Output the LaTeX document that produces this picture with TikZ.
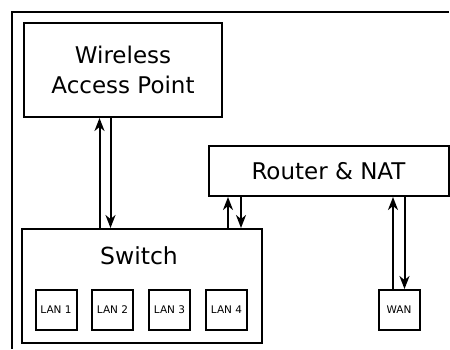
\documentclass[tikz,border=0pt]{standalone}
\usepackage{fontspec}
\setmainfont{DejaVu Sans}
\usetikzlibrary{arrows.meta}
\begin{document}
\begin{tikzpicture}[x=1pt,y=-1pt,
  box/.style={draw,line width=2pt,inner sep=0pt},
  port/.style={draw,line width=2pt,inner sep=0pt,minimum width=41pt,minimum height=40pt,font=\fontsize{10.5}{12}\selectfont},
  link/.style={line width=2pt,-{Stealth[length=13pt,width=10pt,inset=4pt]}}]
\useasboundingbox (0,0) rectangle (450,349);
\coordinate (fbl) at (12,348.5);
\coordinate (ftl) at (12,11.5);
\coordinate (ftr) at (448.5,11.5);
\draw[line width=2pt] (fbl) -- (ftl) -- (ftr);
\node[box,minimum width=198pt,minimum height=94pt,align=center,font=\fontsize{23}{30}\selectfont] (wap) at (123,70) {Wireless\\Access Point};
\node[box,minimum width=240pt,minimum height=50pt,font=\fontsize{23}{27}\selectfont] (router) at (328.5,171) {Router \& NAT};
\node[box,minimum width=240pt,minimum height=114pt] (switch) at (142,286) {};
\node[font=\fontsize{23.5}{27}\selectfont] (swlabel) at (139,256) {Switch};
\node[port] (lan1) at (56,310) {LAN 1};
\node[port] (lan2) at (112.5,310) {LAN 2};
\node[port] (lan3) at (169.5,310) {LAN 3};
\node[port] (lan4) at (226.5,310) {LAN 4};
\node[port] (wan) at (399,310) {WAN};
% switch <-> WAP
\draw[link] (switch.north -| 99.5,0) -- (wap.south -| 99.5,0);
\draw[link] (wap.south -| 110.5,0) -- (switch.north -| 110.5,0);
% switch <-> router
\draw[link] (switch.north -| 228,0) -- (router.south -| 228,0);
\draw[link] (router.south -| 241,0) -- (switch.north -| 241,0);
% wan <-> router
\draw[link] (wan.north -| 393,0) -- (router.south -| 393,0);
\draw[link] (router.south -| 404.5,0) -- (wan.north -| 404.5,0);
\end{tikzpicture}
\end{document}
